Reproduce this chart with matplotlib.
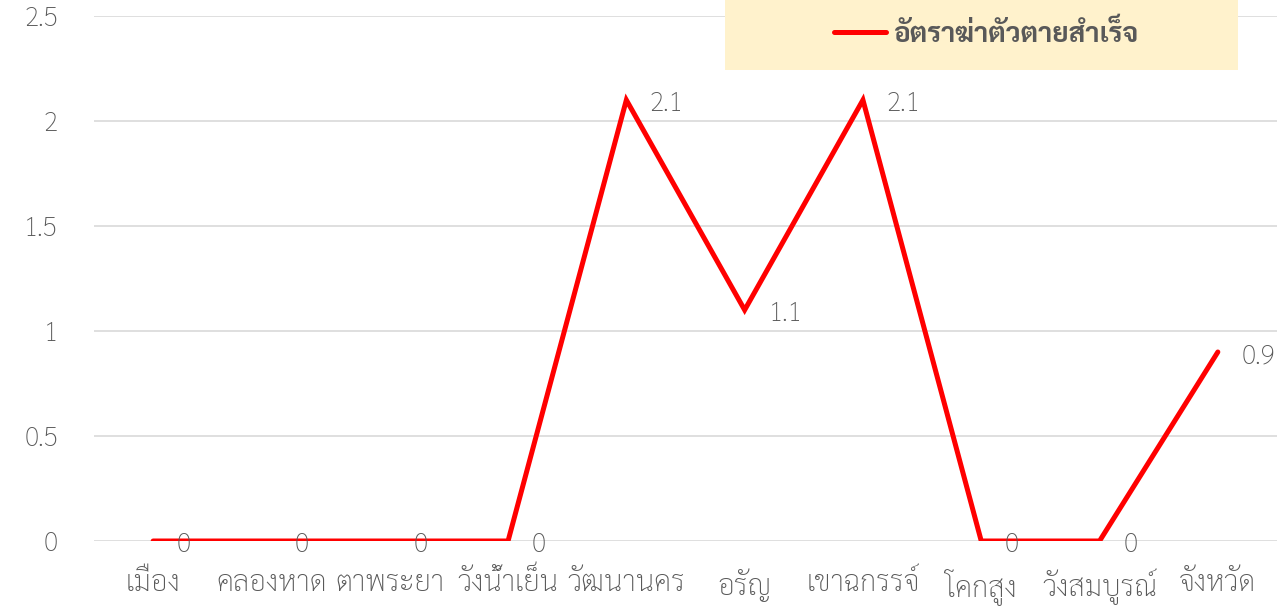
import matplotlib
matplotlib.use("Agg")
import matplotlib.pyplot as plt
from matplotlib.patches import Rectangle

districts = ["เมือง", "คลองหาด", "ตาพระยา", "วังน้ำเย็น", "วัฒนานคร", "อรัญ",
             "เขาฉกรรจ์", "โคกสูง", "วังสมบูรณ์", "จังหวัด"]
rates = [0, 0, 0, 0, 2.1, 1.1, 2.1, 0, 0, 0.9]
series_name = "อัตราฆ่าตัวตายสำเร็จ"
yticks = [0, 0.5, 1, 1.5, 2, 2.5]

plt.rcParams["font.family"] = ["Sarabun", "DejaVu Sans"]

grey = "#595959"
W, H = 1286, 612
fig = plt.figure(figsize=(W / 100, H / 100), dpi=100)
ax = fig.add_axes([94 / W, 71 / H, 1183 / W, 525 / H])

x = list(range(len(districts)))
ax.plot(x, rates, color="#FF0000", lw=3.6, solid_joinstyle="miter",
        solid_capstyle="round", label=series_name, zorder=3)
for xi, v in zip(x, rates):
    ax.annotate(f"{v:g}", (xi, v), xytext=(17, -3), textcoords="offset points",
                ha="left", va="center", fontsize=19, weight="light",
                color=grey, zorder=4, annotation_clip=False)

ax.set_xlim(-0.5, len(districts) - 0.5)
ax.set_ylim(0, 2.5)
ax.set_yticks(yticks)
ax.set_yticklabels([f"{t:g}" for t in yticks])
ax.set_xticks(x)
ax.set_xticklabels(districts)
ax.tick_params(axis="y", length=0, pad=26, labelsize=19, labelcolor=grey)
ax.tick_params(axis="x", length=0, pad=20, labelsize=21, labelcolor=grey)
for lab in ax.get_xticklabels() + ax.get_yticklabels():
    lab.set_fontweight("light")
ax.grid(axis="y", color="#D9D9D9", lw=1.2)
ax.set_axisbelow(True)
for s in ax.spines.values():
    s.set_visible(False)

# legend box
fig.patches.append(Rectangle((725 / W, (H - 70) / H), 513 / W, 70 / H,
                             transform=fig.transFigure, facecolor="#FFF2CC",
                             edgecolor="none", zorder=5))
leg = fig.legend(loc="center", bbox_to_anchor=(986 / W, (H - 34) / H),
                 frameon=False, handlelength=1.9, handletextpad=0.25,
                 prop={"size": 20, "weight": "bold"})
leg.set_zorder(6)
for t in leg.get_texts():
    t.set_color(grey)

fig.savefig("out.png", dpi=100)
